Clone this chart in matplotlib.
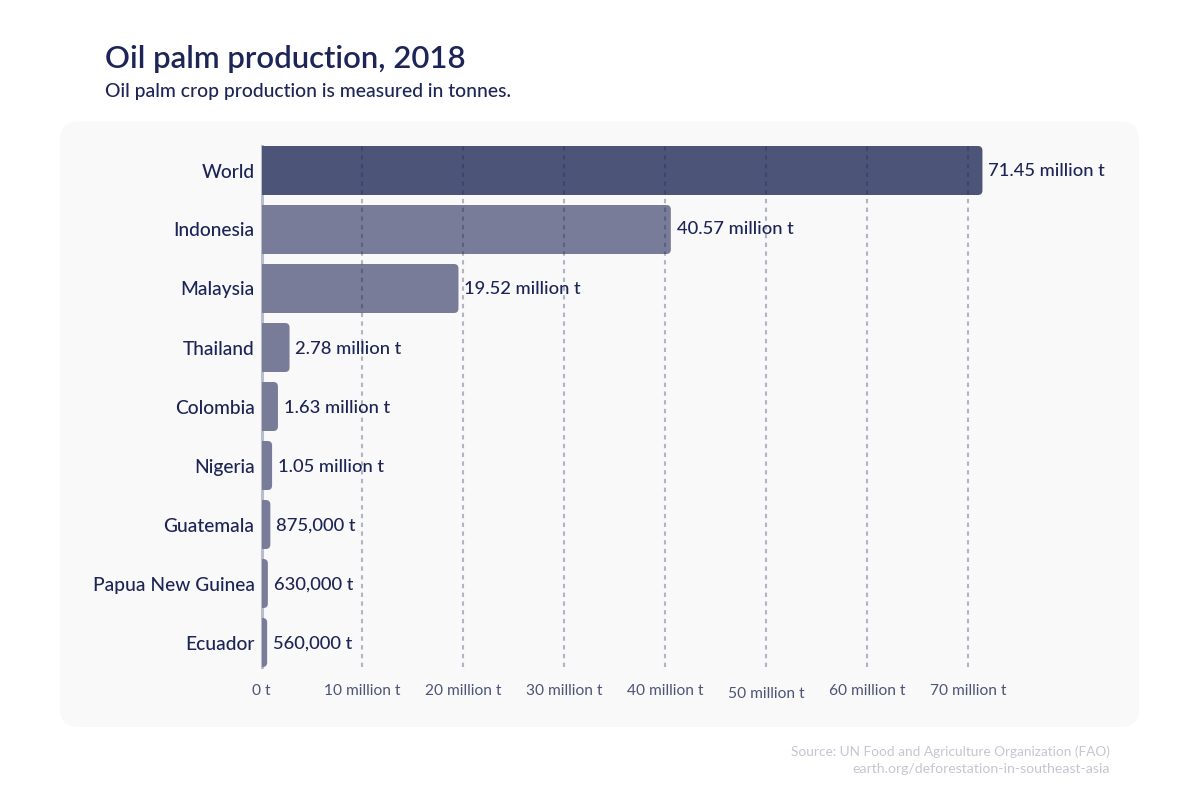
import matplotlib
matplotlib.use("Agg")
import matplotlib.pyplot as plt
from matplotlib.patches import FancyBboxPatch, PathPatch
from matplotlib.path import Path
from matplotlib.transforms import ScaledTranslation

countries = ["World", "Indonesia", "Malaysia", "Thailand", "Colombia", "Nigeria",
             "Guatemala", "Papua New Guinea", "Ecuador"]
values_mt = [71.45, 40.57, 19.52, 2.78, 1.63, 1.05, 0.875, 0.63, 0.56]
value_labels = ["71.45 million t", "40.57 million t", "19.52 million t", "2.78 million t",
                "1.63 million t", "1.05 million t", "875,000 t", "630,000 t", "560,000 t"]
tick_values = [0, 10, 20, 30, 40, 50, 60, 70]
tick_labels = ["0 t", "10 million t", "20 million t", "30 million t", "40 million t",
               "50 million t", "60 million t", "70 million t"]
title = "Oil palm production, 2018"
subtitle = "Oil palm crop production is measured in tonnes."
source_lines = ["Source: UN Food and Agriculture Organization (FAO)",
                "earth.org/deforestation-in-southeast-asia"]

NAVY = "#1d2557"
WORLD = "#4c5578"
OTHER = "#797c98"
FONT = ["Lato", "DejaVu Sans"]
W, H = 1200, 800
PX_PER_MT = 10.09
STEP = 59.0
plt.rcParams["font.family"] = FONT

fig = plt.figure(figsize=(12, 8), dpi=100, facecolor="white")

bg = fig.add_axes([0, 0, 1, 1], zorder=0)
bg.set_xlim(0, W)
bg.set_ylim(H, 0)
bg.axis("off")
bg.add_patch(FancyBboxPatch((60 + 18, 121.5 + 18), 1079 - 36, 605.5 - 36,
                            boxstyle="round,pad=18,rounding_size=18",
                            fc="#f9f9f9", ec="none"))
bg.text(105, 59, title, fontsize=22.4, color=NAVY, va="center", ha="left", fontweight="semibold")
bg.text(105, 92, subtitle, fontsize=13.9, color=NAVY, va="center", ha="left", fontweight="medium")
bg.text(1110, 751.5, source_lines[0], fontsize=9.8, color="#c5c6d4", va="center", ha="right")
bg.text(1110, 769, source_lines[1], fontsize=10.2, color="#c5c6d4", va="center", ha="right")

left, right, top, bottom = 261.5, 1130.0, 146.0, 667.0
ax = fig.add_axes([left / W, 1 - bottom / H, (right - left) / W, (bottom - top) / H], zorder=1)
ax.patch.set_alpha(0)
ax.set_xlim(0, (right - left) / PX_PER_MT)
ax.set_ylim((bottom - 170.5) / STEP, (top - 170.5) / STEP)

bar_h = 49.0 / STEP
rx = 4.5 / PX_PER_MT
ry = 4.5 / STEP
for i, (v, c) in enumerate(zip(values_mt, countries)):
    y0, y1 = i - bar_h / 2, i + bar_h / 2
    r = min(rx, v)
    verts = [(0, y0), (v - r, y0), (v, y0), (v, y0 + ry), (v, y1 - ry), (v, y1),
             (v - r, y1), (0, y1), (0, y0)]
    codes = [Path.MOVETO, Path.LINETO, Path.CURVE3, Path.CURVE3, Path.LINETO,
             Path.CURVE3, Path.CURVE3, Path.LINETO, Path.CLOSEPOLY]
    ax.add_patch(PathPatch(Path(verts, codes), fc=WORLD if i == 0 else OTHER, ec="none", zorder=2))

label_dy = [-1, 1, -1, -1, -1, -1, -1, -1, -1]
for i, (v, s) in enumerate(zip(values_mt, value_labels)):
    ax.annotate(s, (v, i), xytext=(4.2, label_dy[i] * 0.72), textcoords="offset points",
                fontsize=13.2, color=NAVY, va="center", ha="left", fontweight="medium", zorder=5)

ax.set_yticks(range(len(countries)))
ax.set_yticklabels(countries, fontsize=13.8, color=NAVY, fontweight="medium")
ax.tick_params(axis="y", length=0, pad=5)
ax.set_xticks(tick_values)
ax.set_xticklabels(tick_labels, fontsize=11.2, color=WORLD)
ax.tick_params(axis="x", length=0, pad=12)
ax.xaxis.grid(True, color="#1d2557", alpha=0.32, linestyle=(0, (2.1, 2.1)), linewidth=1.5, zorder=3)
ax.set_axisbelow(False)
ax.xaxis.get_gridlines()[0].set_visible(False)
for sp in ("top", "right", "bottom"):
    ax.spines[sp].set_visible(False)
ax.spines["left"].set_color("#b9bccd")
ax.spines["left"].set_linewidth(2.2)
ax.spines["left"].set_zorder(1)

lab50 = ax.get_xticklabels()[5]
lab50.set_transform(lab50.get_transform() + ScaledTranslation(0, -3 / 100, fig.dpi_scale_trans))

fig.savefig("out.png", dpi=100)
